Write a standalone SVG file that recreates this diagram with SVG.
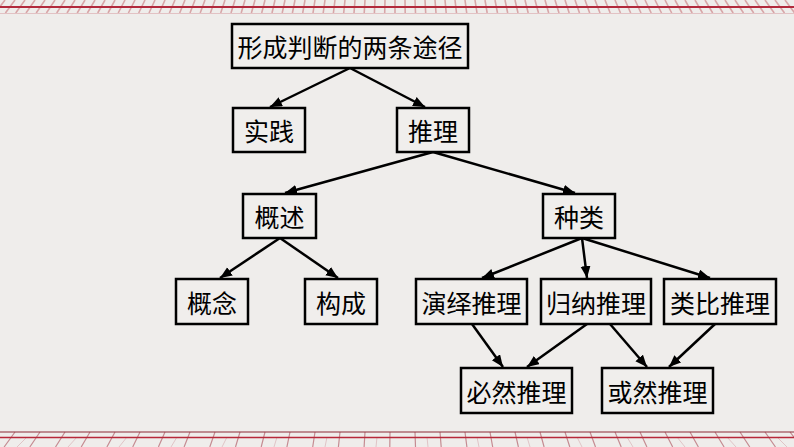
<svg xmlns="http://www.w3.org/2000/svg" width="794" height="447" viewBox="0 0 794 447">
<defs>
<style>
.box{fill:#f0eeec;stroke:#000;stroke-width:2.5}
.t{font-family:"Noto Sans CJK SC","Noto Sans CJK JP",sans-serif;font-size:25px;fill:#000;text-anchor:middle;dominant-baseline:central}
.c{stroke:#000;stroke-width:2.5;fill:none;marker-end:url(#ah)}
</style>
<marker id="ah" markerUnits="userSpaceOnUse" markerWidth="14" markerHeight="12" refX="12" refY="5" orient="auto">
<path d="M0,0 L12,5 L0,10 z" fill="#000"/>
</marker>
</defs>
<rect x="0" y="0" width="794" height="447" fill="#efedeb"/>
<g id="border-top">
<path stroke="#d8a6a8" stroke-width="1.6" fill="none" d="M5 0l-9.8 13M15 0l-9.6 13M25 0l-9.3 13M35 0l-9 13M45 0l-8.8 13M55 0l-8.6 13M65 0l-8.3 13M75 0l-8 13M85 0l-7.8 13M95 0l-7.6 13M105 0l-7.3 13M115 0l-7 13M125 0l-6.8 13M135 0l-6.6 13M145 0l-6.3 13M155 0l-6 13M165 0l-5.8 13M175 0l-5.6 13M185 0l-5.3 13M195 0l-5 13M205 0l-4.8 13M215 0l-4.6 13M225 0l-4.3 13M235 0l-4 13M245 0l-3.8 13M255 0l-3.6 13M265 0l-3.3 13M275 0l-3 13M285 0l-2.8 13M295 0l-2.6 13M305 0l-2.3 13M315 0l-2 13M325 0l-1.8 13M335 0l-1.6 13M345 0l-1.3 13M355 0l-1 13M365 0l-0.8 13M375 0l-0.6 13M385 0l-0.3 13M395 0l0 13M405 0l0.2 13M415 0l0.5 13M425 0l0.7 13M435 0l1 13M445 0l1.2 13M455 0l1.5 13M465 0l1.7 13M475 0l2 13M485 0l2.2 13M495 0l2.5 13M505 0l2.7 13M515 0l3 13M525 0l3.2 13M535 0l3.5 13M545 0l3.7 13M555 0l4 13M565 0l4.2 13M575 0l4.5 13M585 0l4.7 13M595 0l5 13M605 0l5.2 13M615 0l5.5 13M625 0l5.7 13M635 0l6 13M645 0l6.2 13M655 0l6.5 13M665 0l6.7 13M675 0l7 13M685 0l7.2 13M695 0l7.5 13M705 0l7.7 13M715 0l8 13M725 0l8.2 13M735 0l8.5 13M745 0l8.7 13M755 0l9 13M765 0l9.2 13M775 0l9.5 13M785 0l9.7 13M795 0l10 13"/>
<line x1="0" y1="7" x2="794" y2="7" stroke="#b22a3c" stroke-width="1.8"/>
<line x1="0" y1="13.5" x2="794" y2="13.5" stroke="#e2c2c4" stroke-width="1"/>
</g>
<g id="border-bottom">
<path stroke="#e0c4c6" stroke-width="1" fill="none" d="M27 437l-10 10M77 437l-9 10M127 437l-8 10M177 437l-6 10M227 437l-5 10M277 437l-3 10M327 437l-2 10M377 437l-1 10M427 437l1 10M477 437l2 10M527 437l3 10M577 437l5 10M627 437l6 10M677 437l8 10M727 437l9 10M777 437l10 10"/>
<path stroke="#c58c92" stroke-width="1.2" fill="none" d="M15 432l-10.9 15M40 432l-10.2 15M65 432l-9.5 15M90 432l-8.8 15M115 432l-8.1 15M140 432l-7.3 15M165 432l-6.6 15M190 432l-5.9 15M215 432l-5.2 15M240 432l-4.5 15M265 432l-3.8 15M290 432l-3.1 15M315 432l-2.3 15M340 432l-1.6 15M365 432l-0.9 15M390 432l-0.2 15M415 432l0.5 15M440 432l1.2 15M465 432l1.9 15M490 432l2.7 15M515 432l3.4 15M540 432l4.1 15M565 432l4.8 15M590 432l5.5 15M615 432l6.2 15M640 432l6.9 15M665 432l7.7 15M690 432l8.4 15M715 432l9.1 15M740 432l9.8 15M765 432l10.5 15M790 432l11.2 15"/>
<line x1="0" y1="432" x2="794" y2="432" stroke="#8e2a36" stroke-width="1.2"/>
<line x1="0" y1="437.5" x2="794" y2="437.5" stroke="#b8283a" stroke-width="1.6"/>
</g>
<g id="connectors">
<line class="c" x1="350" y1="68" x2="270" y2="107"/>
<line class="c" x1="350" y1="68" x2="425" y2="107"/>
<line class="c" x1="433" y1="152" x2="285" y2="193"/>
<line class="c" x1="433" y1="152" x2="575" y2="193"/>
<line class="c" x1="280" y1="238" x2="220" y2="278"/>
<line class="c" x1="280" y1="238" x2="338" y2="278"/>
<line class="c" x1="582" y1="238" x2="482" y2="278"/>
<line class="c" x1="582" y1="238" x2="587" y2="278"/>
<line class="c" x1="582" y1="238" x2="710" y2="278"/>
<line class="c" x1="472" y1="324" x2="503" y2="367"/>
<line class="c" x1="587" y1="324" x2="527" y2="367"/>
<line class="c" x1="610" y1="324" x2="647" y2="367"/>
<line class="c" x1="715" y1="324" x2="669" y2="367"/>
</g>
<g id="n-root"><rect class="box" x="232" y="24" width="236" height="44"/><text class="t" x="350" y="46">形成判断的两条途径</text></g>
<g id="n-shijian"><rect class="box" x="233" y="108" width="72" height="44"/><text class="t" x="269" y="130">实践</text></g>
<g id="n-tuili"><rect class="box" x="397" y="108" width="72" height="44"/><text class="t" x="433" y="130">推理</text></g>
<g id="n-gaishu"><rect class="box" x="243" y="194" width="73" height="44"/><text class="t" x="279.5" y="216">概述</text></g>
<g id="n-zhonglei"><rect class="box" x="543" y="194" width="72" height="44"/><text class="t" x="579" y="216">种类</text></g>
<g id="n-gainian"><rect class="box" x="176" y="279" width="72" height="45"/><text class="t" x="212" y="301.5">概念</text></g>
<g id="n-goucheng"><rect class="box" x="305" y="279" width="72" height="45"/><text class="t" x="341" y="301.5">构成</text></g>
<g id="n-yanyi"><rect class="box" x="416" y="279" width="111" height="45"/><text class="t" x="471.5" y="301.5">演绎推理</text></g>
<g id="n-guina"><rect class="box" x="541" y="279" width="110" height="45"/><text class="t" x="596" y="301.5">归纳推理</text></g>
<g id="n-leibi"><rect class="box" x="664" y="279" width="112" height="45"/><text class="t" x="720" y="301.5">类比推理</text></g>
<g id="n-biran"><rect class="box" x="461" y="368" width="111" height="45"/><text class="t" x="516.5" y="390.5">必然推理</text></g>
<g id="n-huoran"><rect class="box" x="602" y="368" width="111" height="45"/><text class="t" x="657.5" y="390.5">或然推理</text></g>
</svg>
